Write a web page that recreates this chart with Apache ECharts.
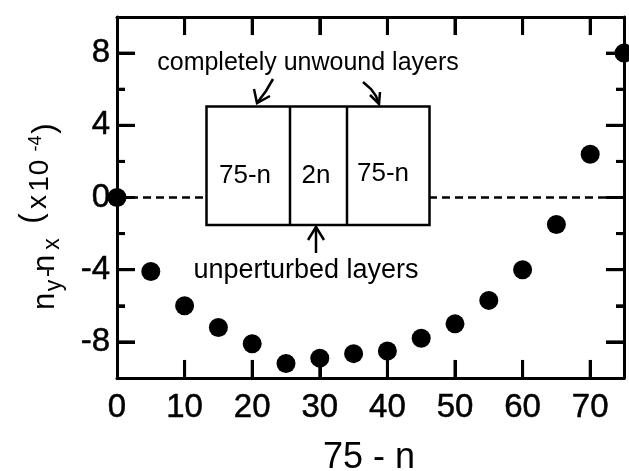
<!DOCTYPE html>
<html><head><meta charset="utf-8">
<script src="https://cdn.jsdelivr.net/npm/echarts@6/dist/echarts.min.js"></script>
<style>html,body{margin:0;padding:0;background:#fff}#c{width:629px;height:471px}</style>
</head><body><div id="c"></div>
<script>
const xValues = [0, 5, 10, 15, 20, 25, 30, 35, 40, 45, 50, 55, 60, 65, 70, 75];
const yValues = [0, -4.1, -6.0, -7.2, -8.1, -9.2, -8.9, -8.65, -8.5, -7.8, -7.0, -5.7, -4.0, -1.5, 2.4, 8.0];
const xTickLabels = [0, 10, 20, 30, 40, 50, 60, 70];
const xTicks = [10, 20, 30, 40, 50, 60, 70];
const yTickLabels = [-8, -4, 0, 4, 8];
const yMinorTicks = [-6, -2, 2, 6];

const FF = "'Liberation Sans', Arial, Helvetica, sans-serif";
const chart = echarts.init(document.getElementById('c'));

function xAx(pos, showLabel) {
  return {
    type: 'value', position: pos, min: 0, max: 75,
    axisLine: { show: true, onZero: false, lineStyle: { color: '#000', width: 3 } },
    axisTick: { show: false },
    axisLabel: { show: showLabel, customValues: xTickLabels, color: '#000', fontSize: 33, fontFamily: FF, margin: 13, textBorderColor: '#000', textBorderWidth: 0.5 },
    splitLine: { show: false }
  };
}
function yAx(pos, showLabel) {
  return {
    type: 'value', position: pos, min: -10, max: 10,
    axisLine: { show: true, onZero: false, lineStyle: { color: '#000', width: 3 } },
    axisTick: { show: false },
    axisLabel: { show: showLabel, customValues: yTickLabels, color: '#000', fontSize: 33, fontFamily: FF, margin: 7, textBorderColor: '#000', textBorderWidth: 0.5 },
    splitLine: { show: false }
  };
}

// tick marks: [side (0 bottom,1 top,2 left,3 right), value, major(1)/minor(0)]
const tickData = [];
xTicks.forEach(v => { tickData.push([0, v, 1]); tickData.push([1, v, 1]); });
yTickLabels.forEach(v => { tickData.push([2, v, 1]); tickData.push([3, v, 1]); });
yMinorTicks.forEach(v => { tickData.push([2, v, 0]); tickData.push([3, v, 0]); });

function renderTick(params, api) {
  const side = api.value(0), v = api.value(1), len = api.value(2) ? 18 : 8;
  const cs = params.coordSys;
  let x1, y1, x2, y2;
  if (side < 2) {
    const p = api.coord([v, 0]);
    x1 = x2 = p[0];
    y1 = side === 0 ? cs.y + cs.height : cs.y;
    y2 = side === 0 ? y1 - len : y1 + len;
  } else {
    const p = api.coord([0, v]);
    y1 = y2 = p[1];
    x1 = side === 2 ? cs.x : cs.x + cs.width;
    x2 = side === 2 ? x1 + len : x1 - len;
  }
  return { type: 'line', shape: { x1, y1, x2, y2 }, style: { stroke: '#000', lineWidth: 3 } };
}

// the same ticks as short solid mark lines in data space (backup)
const TX = 1.0, TYM = 2.66, TYm = 1.18;
const solid = { type: 'solid', width: 3, color: '#000', opacity: 1 };
const tickLines = [];
xTicks.forEach(v => {
  tickLines.push([{ coord: [v, -10], lineStyle: solid }, { coord: [v, -10 + TX] }]);
  tickLines.push([{ coord: [v, 10], lineStyle: solid }, { coord: [v, 10 - TX] }]);
});
yTickLabels.forEach(v => {
  tickLines.push([{ coord: [0, v], lineStyle: solid }, { coord: [TYM, v] }]);
  tickLines.push([{ coord: [75, v], lineStyle: solid }, { coord: [75 - TYM, v] }]);
});
yMinorTicks.forEach(v => {
  tickLines.push([{ coord: [0, v], lineStyle: solid }, { coord: [TYm, v] }]);
  tickLines.push([{ coord: [75, v], lineStyle: solid }, { coord: [75 - TYm, v] }]);
});

// rotated y-axis title pieces: [text, along, across, fontSize]
const yTitle = [
  ['n', 16.5, 45.6, 31], ['y', 32.5, 54.5, 23], ['-', 45, 47.8, 24],
  ['n', 54.5, 45.8, 31], ['x', 74, 53, 23], ['(', 99.5, 32.3, 31],
  ['x', 116, 38.3, 28], ['1', 134, 40.5, 28], ['0', 150.5, 40.5, 28],
  ['-4', 174.5, 36.5, 18], [')', 189.5, 45.3, 31]
];

function txt(s) {
  return Object.assign({ fontFamily: FF, fill: '#000', textAlign: 'center', textVerticalAlign: 'middle' }, s);
}
const lineSt = { stroke: '#000', lineWidth: 2.5, fill: null };
const graphics = [
  { type: 'rect', z: 10, shape: { x: 206.5, y: 106.5, width: 223, height: 118.5 }, style: { fill: '#fff', stroke: '#000', lineWidth: 2.5 } },
  { type: 'line', z: 11, shape: { x1: 290, y1: 106.5, x2: 290, y2: 225 }, style: { stroke: '#000', lineWidth: 2.5 } },
  { type: 'line', z: 11, shape: { x1: 347, y1: 106.5, x2: 347, y2: 225 }, style: { stroke: '#000', lineWidth: 2.5 } },
  { type: 'text', z: 11, style: txt({ text: '75-n', x: 245, y: 176, fontSize: 26 }) },
  { type: 'text', z: 11, style: txt({ text: '2n', x: 316, y: 176, fontSize: 26 }) },
  { type: 'text', z: 11, style: txt({ text: '75-n', x: 383, y: 174, fontSize: 26 }) },
  { type: 'text', z: 11, style: txt({ text: 'completely unwound layers', x: 308, y: 63.5, fontSize: 25 }) },
  { type: 'text', z: 11, style: txt({ text: 'unperturbed layers', x: 306, y: 270.5, fontSize: 27 }) },
  // arrows
  { type: 'polyline', z: 11, shape: { points: [[273, 79], [266, 91], [257, 103]] }, style: lineSt },
  { type: 'polyline', z: 11, shape: { points: [[254, 89], [257, 103], [270, 96]] }, style: lineSt },
  { type: 'polyline', z: 11, shape: { points: [[363, 82], [371, 89], [376, 96], [379, 104]] }, style: lineSt },
  { type: 'polyline', z: 11, shape: { points: [[370, 95], [379, 104], [380, 92]] }, style: lineSt },
  { type: 'line', z: 11, shape: { x1: 316, y1: 227, x2: 316, y2: 253 }, style: { stroke: '#000', lineWidth: 2.5 } },
  { type: 'polyline', z: 11, shape: { points: [[308, 240], [316, 227], [324, 240]] }, style: lineSt },
  // x axis title
  { type: 'text', z: 11, style: txt({ text: '75 - n', x: 369, y: 458, fontSize: 36 }) },
  // y axis title (rotated group)
  { type: 'group', x: 0, y: 318, rotation: Math.PI / 2, children: yTitle.map(p => ({
      type: 'text', style: txt({ text: p[0], x: p[1], y: p[2], fontSize: p[3] })
    })) }
];

chart.setOption({
  animation: false,
  backgroundColor: '#fff',
  grid: { left: 117, right: 5, top: 17, bottom: 93 },
  xAxis: [xAx('bottom', true), xAx('top', false)],
  yAxis: [yAx('left', true), yAx('right', false)],
  series: [{
    type: 'scatter', xAxisIndex: 0, yAxisIndex: 0, clip: false, z: 5,
    symbol: 'circle', symbolSize: 19, itemStyle: { color: '#000', opacity: 1 },
    data: xValues.map((x, i) => [x, yValues[i]]),
    markLine: {
      silent: true, symbol: 'none', label: { show: false }, animation: false,
      lineStyle: { color: '#000', width: 2.5, type: [8, 5], opacity: 1 },
      data: [{ yAxis: 0 }].concat(tickLines)
    }
  }, {
    type: 'custom', xAxisIndex: 0, yAxisIndex: 0, clip: false, silent: true, z: 4,
    renderItem: renderTick, data: tickData
  }],
  graphic: graphics
});
</script></body></html>
